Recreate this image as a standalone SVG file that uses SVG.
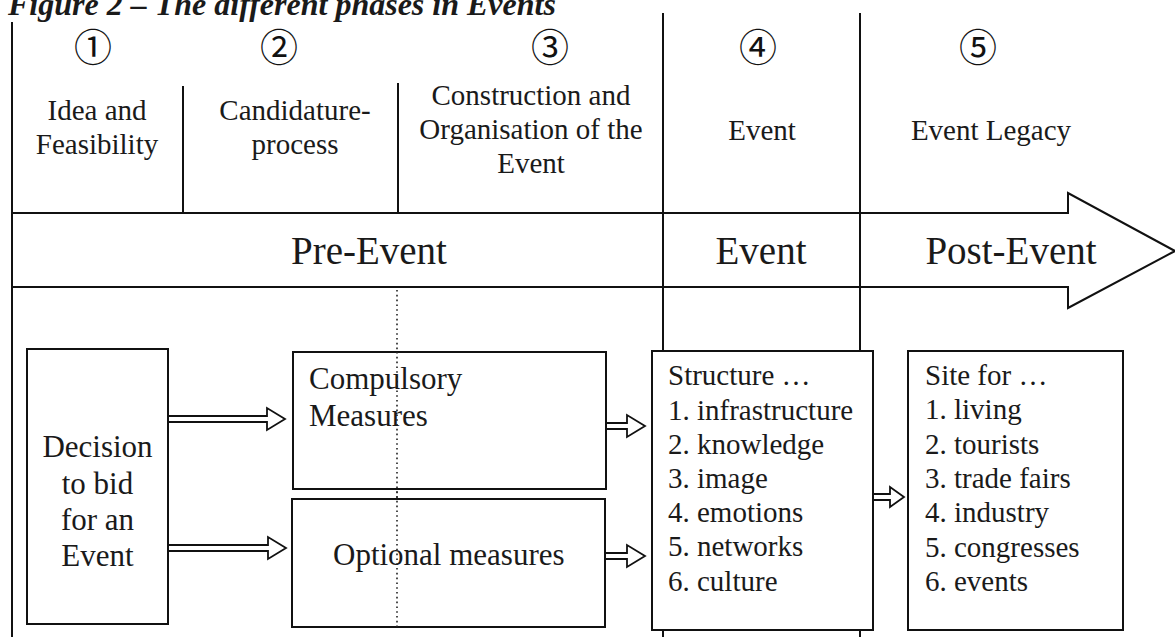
<svg xmlns="http://www.w3.org/2000/svg" width="1175" height="637" viewBox="0 0 1175 637">
<style>
.ln{stroke:#111;stroke-width:2;fill:none}
.bx{stroke:#111;stroke-width:2;fill:#fff}
.t{font-family:"Liberation Serif","Times New Roman",serif;fill:#1a1a1a}
.top{font-size:29px;text-anchor:middle}
.big{font-size:39px;text-anchor:middle}
.lst{font-size:29px}
.mid{font-size:31px}
.num{font-family:"Noto Sans CJK JP","DejaVu Sans",sans-serif;font-size:38px;font-weight:normal;text-anchor:middle;fill:#111}
.ar{stroke:#111;stroke-width:1.8;fill:#fff;stroke-linejoin:miter}
</style>
<rect width="1175" height="637" fill="#fff"/>
<text class="t" x="8" y="15" font-size="32" font-weight="bold" font-style="italic">Figure 2 – The different phases in Events</text>

<g id="frame">
<line class="ln" x1="12" y1="22" x2="12" y2="637"/>
<line class="ln" x1="183" y1="86" x2="183" y2="213"/>
<line class="ln" x1="398" y1="83" x2="398" y2="213"/>
<path class="ln" d="M12,213 H1068 V193 L1175,251 L1068,308 V287 H12"/>
<line class="ln" x1="663" y1="13" x2="663" y2="637"/>
<line class="ln" x1="860" y1="13" x2="860" y2="637"/>
<line x1="397" y1="290" x2="397" y2="622" stroke="#222" stroke-width="1.6" stroke-dasharray="1.6,3.2"/>
</g>

<g id="phase1">
<text class="num" x="93" y="61">①</text>
<text class="t top" x="97" y="120">Idea and</text>
<text class="t top" x="97" y="154">Feasibility</text>
</g>
<g id="phase2">
<text class="num" x="279" y="61">②</text>
<text class="t top" x="295" y="120">Candidature-</text>
<text class="t top" x="295" y="154">process</text>
</g>
<g id="phase3">
<text class="num" x="550" y="61">③</text>
<text class="t top" x="531" y="105">Construction and</text>
<text class="t top" x="531" y="139">Organisation of the</text>
<text class="t top" x="531" y="173">Event</text>
</g>
<g id="phase4">
<text class="num" x="758" y="61">④</text>
<text class="t top" x="762" y="140">Event</text>
</g>
<g id="phase5">
<text class="num" x="978" y="61">⑤</text>
<text class="t top" x="991" y="140">Event Legacy</text>
</g>

<g id="timeline">
<text class="t big" x="369" y="264">Pre-Event</text>
<text class="t big" x="761" y="264">Event</text>
<text class="t big" x="1011" y="264">Post-Event</text>
</g>

<g id="connectors">
<path class="ar" d="M168,416 H267 V408 L285,419 L267,430 V422 H168"/>
<path class="ar" d="M168,545 H268 V537 L286,548 L268,559 V551 H168"/>
<path class="ar" d="M606,423 H627 V415 L645,426 L627,437 V429 H606"/>
<path class="ar" d="M605,553 H627 V545 L645,556 L627,567 V559 H605"/>
<path class="ar" d="M873,494 H890 V487 L904,497 L890,507 V500 H873"/>
</g>

<g id="decision">
<rect class="bx" x="27" y="349" width="141" height="275"/>
<text class="t mid" x="97.5" y="457" text-anchor="middle" font-size="30">Decision</text>
<text class="t mid" x="97.5" y="494" text-anchor="middle" font-size="30">to bid</text>
<text class="t mid" x="97.5" y="530" text-anchor="middle" font-size="30">for an</text>
<text class="t mid" x="97.5" y="566" text-anchor="middle" font-size="30">Event</text>
</g>

<g id="compulsory">
<rect class="bx" x="293" y="352" width="313" height="137"/>
<text class="t mid" x="309" y="389">Compulsory</text>
<text class="t mid" x="309" y="426">Measures</text>
</g>

<g id="optional">
<rect class="bx" x="292" y="499" width="313" height="128"/>
<text class="t mid" x="333" y="565">Optional measures</text>
</g>

<line x1="397" y1="352" x2="397" y2="627" stroke="#222" stroke-width="1.6" stroke-dasharray="1.6,3.2"/>

<g id="structure">
<rect class="bx" x="652" y="351" width="221" height="279"/>
<text class="t lst" x="668" y="385">Structure …</text>
<text class="t lst" x="668" y="420">1. infrastructure</text>
<text class="t lst" x="668" y="454">2. knowledge</text>
<text class="t lst" x="668" y="488">3. image</text>
<text class="t lst" x="668" y="522">4. emotions</text>
<text class="t lst" x="668" y="556">5. networks</text>
<text class="t lst" x="668" y="591">6. culture</text>
</g>

<g id="site">
<rect class="bx" x="908" y="351" width="215" height="279"/>
<text class="t lst" x="925" y="385">Site for …</text>
<text class="t lst" x="925" y="419">1. living</text>
<text class="t lst" x="925" y="454">2. tourists</text>
<text class="t lst" x="925" y="488">3. trade fairs</text>
<text class="t lst" x="925" y="522">4. industry</text>
<text class="t lst" x="925" y="557">5. congresses</text>
<text class="t lst" x="925" y="591">6. events</text>
</g>
</svg>
